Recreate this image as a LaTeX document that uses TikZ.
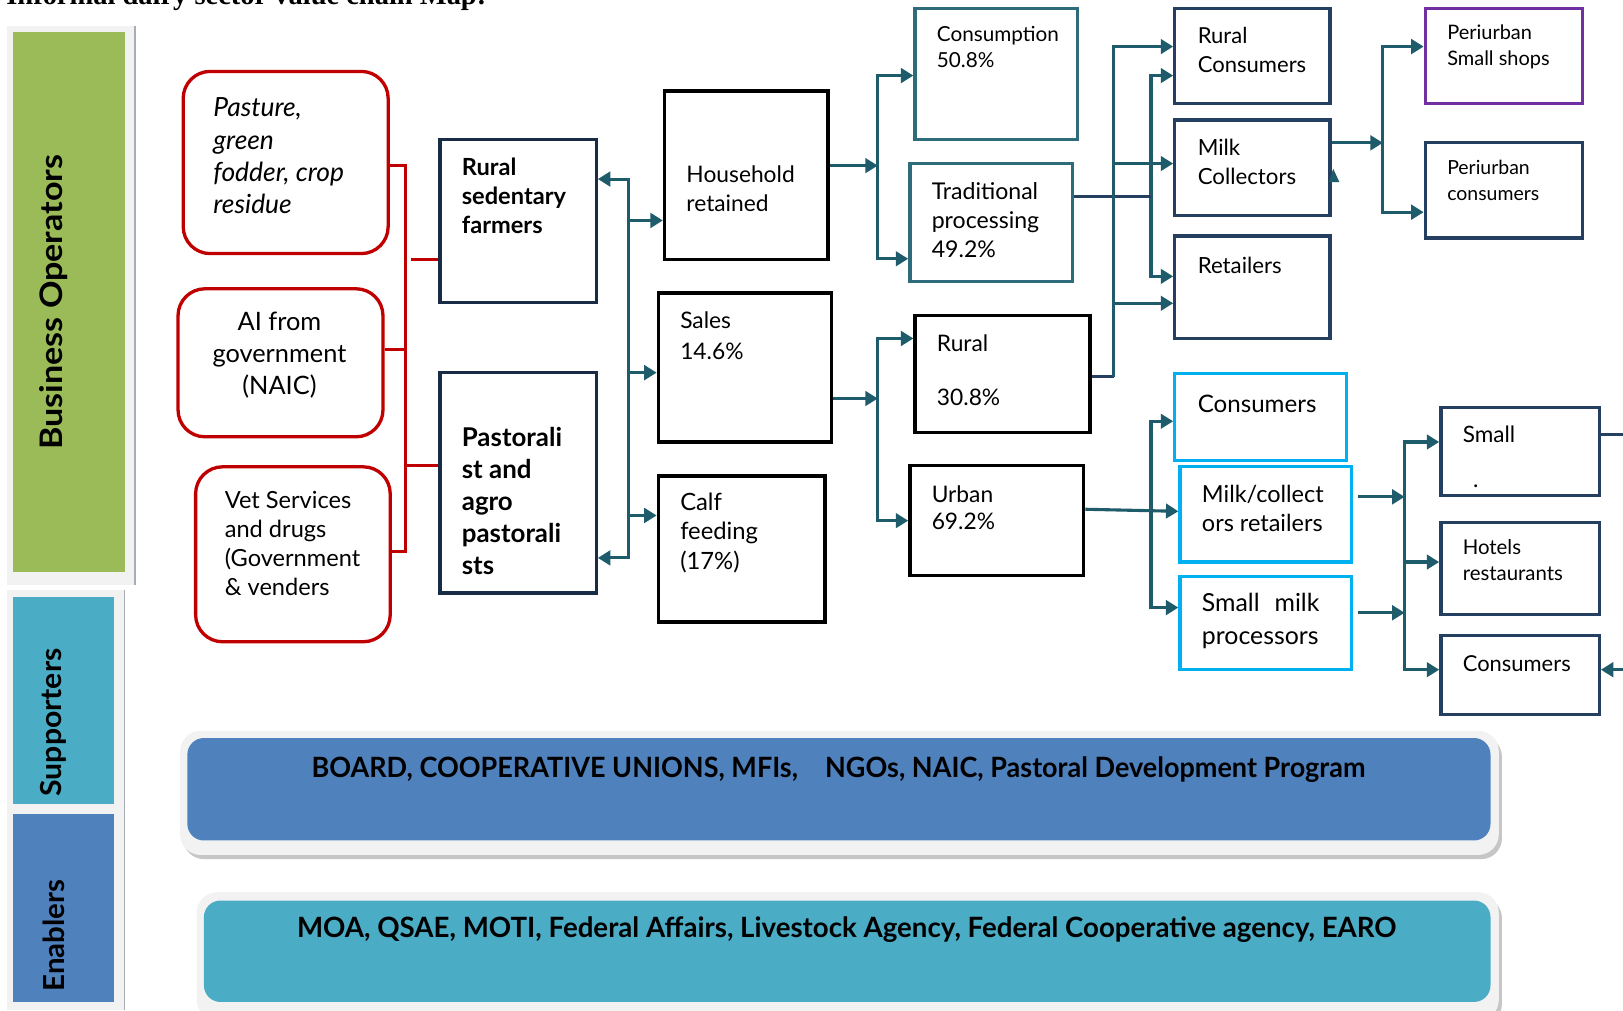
\documentclass[tikz,border=0pt]{standalone}
\usepackage{fontspec}
\usepackage{graphicx}
\setmainfont{Lato}
\newfontfamily\titlefont{Liberation Serif}
\usetikzlibrary{arrows.meta}
\definecolor{tealln}{HTML}{1F5C6B}
\definecolor{navy}{HTML}{243F60}
\definecolor{farm}{HTML}{182C45}
\definecolor{tealbx}{HTML}{2F6C7B}
\definecolor{cyanbx}{HTML}{00B0F0}
\definecolor{purp}{HTML}{7030A0}
\definecolor{redbx}{HTML}{C00000}
\definecolor{opgreen}{HTML}{9BBB59}
\definecolor{supteal}{HTML}{4BACC6}
\definecolor{enblue}{HTML}{4F81BD}
\definecolor{panelgray}{HTML}{F2F2F2}
\definecolor{edgegray}{HTML}{A6ADB4}
\newcommand\fsz[2]{\fontsize{#1}{#2}\selectfont}
\newcommand\bx[6]{\node[#1, minimum width={#4-#2}, minimum height={#5-#3}] (#6) at ({(#2+#4)/2},{(#3+#5)/2}) {};}
\begin{document}
\begin{tikzpicture}[x=1pt,y=-1pt,
  box/.style={draw=#1, line width=3.2pt, rectangle, inner sep=0pt, fill=white},
  rbox/.style={draw=redbx, line width=3.2pt, rectangle, rounded corners=26pt, inner sep=0pt, fill=white},
  tx/.style={anchor=west, align=left, inner sep=0pt, text=black},
  flow/.style={draw=tealln, line width=3pt, -{Triangle[length=12pt,width=14pt]}},
  flowtwo/.style={draw=tealln, line width=3pt, {Triangle[length=12pt,width=14pt]}-{Triangle[length=12pt,width=14pt]}},
  ln/.style={draw=tealln, line width=3pt},
  nln/.style={draw=navy, line width=3pt},
  rln/.style={draw=redbx, line width=3pt},
  side/.style={rotate=90, inner sep=0pt, text=black}
]
\useasboundingbox (0,0) rectangle (1568,976);
\fill[white] (0,0) rectangle (1568,976);

% title (cut at top, as in the reference)
\node[anchor=base east, inner sep=0pt] (title) at (470,4) {\titlefont\bfseries\fsz{27.5}{27.5}Informal dairy sector value chain Map:};

% left panels
\node[fill=panelgray, minimum width=123, minimum height=540, inner sep=0pt] (bobg) at (68.5,295) {};
\draw[edgegray, line width=1.5pt] (bobg.north east) -- (bobg.south east);
\node[fill=opgreen, minimum width=108, minimum height=522, inner sep=0pt] (bo) at (67,292) {};
\node[side] (botx) at (52,292) {\resizebox{285pt}{\height}{\bfseries\fsz{30}{30}Business Operators}};

\node[fill=panelgray, minimum width=113, minimum height=406, inner sep=0pt] (sebg) at (63.5,773) {};
\draw[edgegray, line width=1.5pt] (sebg.north east) -- (sebg.south east);
\node[fill=supteal, minimum width=97, minimum height=200, inner sep=0pt] (sup) at (61.5,677) {};
\node[side] (suptx) at (52,698) {\resizebox{143pt}{\height}{\bfseries\fsz{28}{28}Supporters}};
\node[fill=enblue, minimum width=97, minimum height=182, inner sep=0pt] (en) at (61.5,877) {};
\node[side] (entx) at (52,904) {\resizebox{108pt}{\height}{\bfseries\fsz{28}{28}Enablers}};

% bottom bars
\fill[gray!45, rounded corners=20pt] (177,711) rectangle (1451,830);
\node[fill=panelgray, rounded corners=20pt, minimum width=1274, minimum height=120, inner sep=0pt] (supbg) at (811,766) {};
\node[fill=enblue, rounded corners=16pt, minimum width=1259, minimum height=99, inner sep=0pt] (supbar) at (810.5,762.5) {};
\node[inner sep=0pt] (supbartx) at (810,744) {\resizebox{1018pt}{\height}{\bfseries\fsz{27}{27}BOARD, COOPERATIVE UNIONS, MFIs,\quad NGOs, NAIC, Pastoral Development Program}};

\fill[gray!45, rounded corners=20pt] (193,867) rectangle (1451,990);
\node[fill=panelgray, rounded corners=20pt, minimum width=1258, minimum height=124, inner sep=0pt] (enbg) at (819,924) {};
\node[fill=supteal, rounded corners=16pt, minimum width=1243, minimum height=98, inner sep=0pt] (enbar) at (818.5,919) {};
\node[inner sep=0pt] (enbartx) at (818,898) {\resizebox{1062pt}{\height}{\bfseries\fsz{27}{27}MOA, QSAE, MOTI, Federal Affairs, Livestock Agency, Federal Cooperative agency, EARO}};

% boxes
\bx{rbox}{177}{69}{375}{245}{past}
\bx{rbox}{172}{279}{370}{422}{ai}
\bx{rbox}{189}{451}{377}{620}{vet}
\bx{box=farm}{425}{135}{576}{292}{rsf}
\bx{box=farm}{425}{360}{576}{573}{pas}
\bx{box=black}{642}{88}{800}{251}{hh}
\bx{box=black}{636}{283}{803}{427}{sal}
\bx{box=black}{636}{460}{797}{601}{calf}
\bx{box=tealbx}{884}{8}{1041}{135}{cons}
\bx{box=tealbx}{879}{158}{1036}{272}{trad}
\bx{box=black}{884}{305}{1053}{418}{rur}
\bx{box=black}{879}{450}{1047}{556}{urb}
\bx{box=navy}{1135}{8}{1285}{100}{rc}
\bx{box=navy}{1135}{116}{1285}{208}{mc}
\bx{box=navy}{1135}{228}{1285}{327}{ret}
\bx{box=purp}{1377}{8}{1529}{100}{pss}
\bx{box=navy}{1377}{138}{1529}{230}{pc}
\bx{box=cyanbx}{1135}{361}{1301}{445}{cc}
\bx{box=cyanbx}{1140}{451}{1306}{543}{mcr}
\bx{box=cyanbx}{1140}{557}{1306}{647}{smp}
\bx{box=navy}{1392}{394}{1545}{479}{sm}
\bx{box=navy}{1392}{505}{1545}{594}{hot}
\bx{box=navy}{1392}{614}{1545}{690}{cb}

% texts
\node[tx, font=\itshape\fsz{25.5}{31}] (tpast) at (206,150.5) {Pasture,\\green\\fodder, crop\\residue};
\node[tx, anchor=center, align=center, font=\fsz{24.5}{31}] (tai) at (270,343) {AI from\\government\\(NAIC)};
\node[tx, font=\fsz{22.8}{28}] (tvet) at (217,525) {Vet Services\\and drugs\\(Government\\\& venders};
\node[tx, font=\bfseries\fsz{22.8}{28}] (trsf) at (446,189) {Rural\\sedentary\\farmers};
\node[tx, font=\bfseries\fsz{25}{31}] (tpas) at (446,484) {Pastorali\\st and\\agro\\pastorali\\sts};
\node[tx, font=\fsz{22}{28}] (thh) at (663,182) {Household\\retained};
\node[tx, font=\fsz{22}{30}] (tsal) at (657,324) {Sales\\14.6\%};
\node[tx, font=\fsz{23}{28.5}] (tcalf) at (657,514.5) {Calf\\feeding\\(17\%)};
\node[tx, font=\fsz{20}{25}] (tcons) at (905,45.5) {Consumption\\50.8\%};
\node[tx, font=\fsz{22.3}{28}] (ttrad) at (900,213) {Traditional\\processing\\49.2\%};
\node[tx, font=\fsz{22}{52}] (trur) at (905,358) {Rural\\30.8\%};
\node[tx, font=\fsz{22}{27}] (turb) at (900,490.5) {Urban\\69.2\%};
\node[tx, font=\fsz{21.3}{28}] (trc) at (1157,48) {Rural\\Consumers};
\node[tx, font=\fsz{21.5}{28}] (tmc) at (1157,156) {Milk\\Collectors};
\node[tx, font=\fsz{21.5}{28}] (tret) at (1157,256) {Retailers};
\node[tx, font=\fsz{19.3}{25}] (tpss) at (1398,45.5) {Periurban\\Small shops};
\node[tx, font=\fsz{18.8}{25}] (tpc) at (1398,174.5) {Periurban\\consumers};
\node[tx, font=\fsz{23.3}{28}] (tcc) at (1157,390) {Consumers};
\node[tx, font=\fsz{22.7}{28}] (tmcr) at (1161,491) {Milk/collect\\ors retailers};
\node[tx, font=\fsz{24}{32}] (tsmp) at (1161,600) {Small\hspace{0.6em}milk\\processors};
\node[tx, font=\fsz{21.8}{43}] (tsm) at (1413,441.5) {Small\\\hspace{10pt}.};
\node[tx, font=\fsz{19.7}{25}] (thot) at (1413,541.5) {Hotels\\restaurants};
\node[tx, font=\fsz{21.2}{28}] (tcb) at (1413,641) {Consumers};

% red bracket
\coordinate (r1) at (392,160);
\coordinate (r2) at (392,338);
\coordinate (r3) at (392,533);
\coordinate (r4) at (397,251);
\coordinate (r5) at (392,450);
\draw[rln] (r1 -| past.east) -- (r1) -- (r3) -- (r3 -| vet.east);
\draw[rln] (r2 -| ai.east) -- (r2);
\draw[rln] (r4) -- (r4 -| rsf.west);
\draw[rln] (r5) -- (r5 -| pas.west);

% bus A
\coordinate (a1) at (607,173);
\coordinate (a2) at (607,539);
\coordinate (a3) at (607,213);
\coordinate (a4) at (607,360);
\coordinate (a5) at (607,498);
\draw[flowtwo] (a1 -| rsf.east) -- (a1) -- (a2) -- (a2 -| pas.east);
\draw[flow] (a3) -- (a3 -| hh.west);
\draw[flow] (a4) -- (a4 -| sal.west);
\draw[flow] (a5) -- (a5 -| calf.west);

% bus B
\coordinate (b1) at (848,73);
\coordinate (b2) at (848,250);
\coordinate (bm) at (848,160);
\draw[flowtwo] (b1 -| cons.west) -- (b1) -- (b2) -- (b2 -| trad.west);
\draw[flow] (bm -| hh.east) -- (bm);

% bus C
\coordinate (c1) at (848,327);
\coordinate (c2) at (848,503);
\coordinate (cm) at (848,385);
\draw[flowtwo] (c1 -| rur.west) -- (c1) -- (c2) -- (c2 -| urb.west);
\draw[flow] (cm -| sal.east) -- (cm);

% bus D
\coordinate (d1) at (1112,73);
\coordinate (d2) at (1112,267);
\coordinate (dm) at (1112,190);
\draw[flowtwo] (d1 -| rc.west) -- (d1) -- (d2) -- (d2 -| ret.west);
\draw[nln] (dm -| trad.east) -- (dm);

% bus E
\coordinate (e1) at (1076,45);
\coordinate (e2) at (1076,158);
\coordinate (e3) at (1076,364);
\coordinate (e4) at (1076,293);
\draw[nln] (e3 -| rur.east) -- (e3);
\draw[flow] (e3) -- (e1) -- (e1 -| rc.west);
\draw[flow] (e2) -- (e2 -| mc.west);
\draw[flow] (e4) -- (e4 -| ret.west);

% bus F
\coordinate (f1) at (1336,45);
\coordinate (f2) at (1336,205);
\coordinate (fm) at (1336,138);
\draw[flowtwo] (f1 -| pss.west) -- (f1) -- (f2) -- (f2 -| pc.west);
\draw[flow] (fm -| mc.east) -- (fm);
\fill[tealln] (1284,176) -- (1294,176) -- (1288,163) -- cycle;

% urban to milk collectors/retailers
\draw[flow] ([yshift=11pt]urb.east) -- ([yshift=3pt]mcr.west);

% bus G
\coordinate (g1) at (1112,407);
\coordinate (g2) at (1112,587);
\draw[flowtwo] (g1 -| cc.west) -- (g1) -- (g2) -- (g2 -| smp.west);

% bus H
\coordinate (h1) at (1357,427);
\coordinate (h2) at (1357,543);
\coordinate (h3) at (1357,647);
\coordinate (hm1) at (1357,480);
\coordinate (hm2) at (1357,592);
\draw[flowtwo] (h1 -| sm.west) -- (h1) -- (h3) -- (h3 -| cb.west);
\draw[flow] (h2) -- (h2 -| hot.west);
\draw[flow] ([xshift=4pt]hm1 -| mcr.east) -- (hm1);
\draw[flow] ([xshift=4pt]hm2 -| smp.east) -- (hm2);

% right edge
\coordinate (re1) at (1568,420);
\coordinate (re2) at (1568,647);
\draw[nln] (re1 -| sm.east) -- (re1);
\draw[flow] (re2) -- (re2 -| cb.east);
\end{tikzpicture}
\end{document}
